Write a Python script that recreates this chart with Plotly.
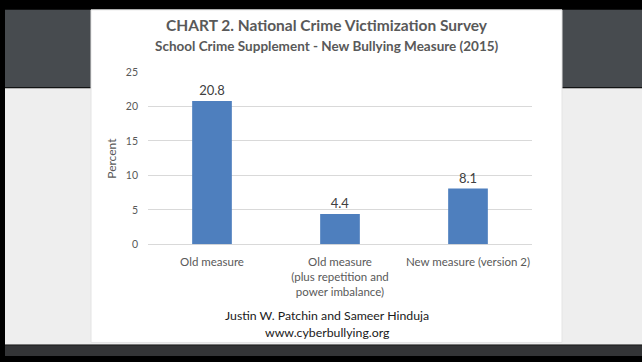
import plotly.graph_objects as go

categories = ["Old measure", "Old measure<br>(plus repetition and<br>power imbalance)", "New measure (version 2)"]
values = [20.8, 4.4, 8.1]
value_labels = ["20.8", "4.4", "8.1"]
y_ticks = [0, 5, 10, 15, 20, 25]

title_text = "CHART 2. National Crime Victimization Survey"
subtitle_text = "School Crime Supplement - New Bullying Measure (2015)"
footer_lines = ["Justin W. Patchin and Sameer Hinduja", "www.cyberbullying.org"]
y_title = "Percent"

W, H = 642, 362
FONT = "Lato"

def px(x):
    return x / W

def py(y):
    return 1 - y / H

def rect(x0, y0, x1, y1, fill, line=None, lw=0):
    return dict(type="rect", xref="paper", yref="paper", layer="below",
                x0=px(x0), x1=px(x1), y0=py(y1), y1=py(y0),
                fillcolor=fill, line=dict(color=line or fill, width=lw))

shapes = [
    rect(0, 0, W, H, "#000000"),
    rect(5, 4, W, 84, "#474b4f"),
    rect(5, 85, W, 350, "#eeeeee"),
    rect(5, 351, W, H, "#333436"),
    rect(91, 4, 562, 348, "#ffffff", "#e4e4e4", 1),
]

fig = go.Figure()
fig.add_trace(go.Bar(
    x=categories, y=values, text=value_labels, textposition="outside",
    textfont=dict(family=FONT, size=13, color="#404040"),
    marker=dict(color="#4e7fbe", line=dict(width=0)),
    cliponaxis=False, width=0.31,
))

annotations = [
    dict(text="<b>" + title_text + "</b>", x=px(327), y=py(20), xref="paper", yref="paper",
         showarrow=False, font=dict(family=FONT, size=15.5, color="#595959"), xanchor="center", yanchor="middle"),
    dict(text="<b>" + subtitle_text + "</b>", x=px(327), y=py(41), xref="paper", yref="paper",
         showarrow=False, font=dict(family=FONT, size=13.5, color="#595959"), xanchor="center", yanchor="middle"),
    dict(text=footer_lines[0], x=px(327), y=py(320), xref="paper", yref="paper",
         showarrow=False, font=dict(family=FONT, size=12.3, color="#1a1a1a"), xanchor="center", yanchor="middle"),
    dict(text=footer_lines[1], x=px(327), y=py(338), xref="paper", yref="paper",
         showarrow=False, font=dict(family=FONT, size=12.3, color="#1a1a1a"), xanchor="center", yanchor="middle"),
    dict(text=y_title, x=px(112), y=py(158), xref="paper", yref="paper", textangle=-90,
         showarrow=False, font=dict(family=FONT, size=12, color="#595959"), xanchor="center", yanchor="middle"),
]

fig.update_layout(
    width=W, height=H, margin=dict(l=0, r=0, t=0, b=0),
    paper_bgcolor="#000000", plot_bgcolor="rgba(0,0,0,0)",
    shapes=shapes, annotations=annotations, showlegend=False, bargap=0.69,
    xaxis=dict(domain=[px(148), px(532)], showgrid=False, zeroline=False, showline=False,
               tickfont=dict(family=FONT, size=11.5, color="#595959"), ticks="", ticklabelstandoff=9),
    yaxis=dict(domain=[py(246.5), py(68.3)], range=[0, 25], tickvals=y_ticks,
               showgrid=True, gridcolor="#d9d9d9", gridwidth=1, zeroline=True, zerolinecolor="#d9d9d9",
               zerolinewidth=1, showline=False, ticks="", ticklabelstandoff=9,
               tickfont=dict(family=FONT, size=10.5, color="#595959")),
)

fig.write_html("out.html")
